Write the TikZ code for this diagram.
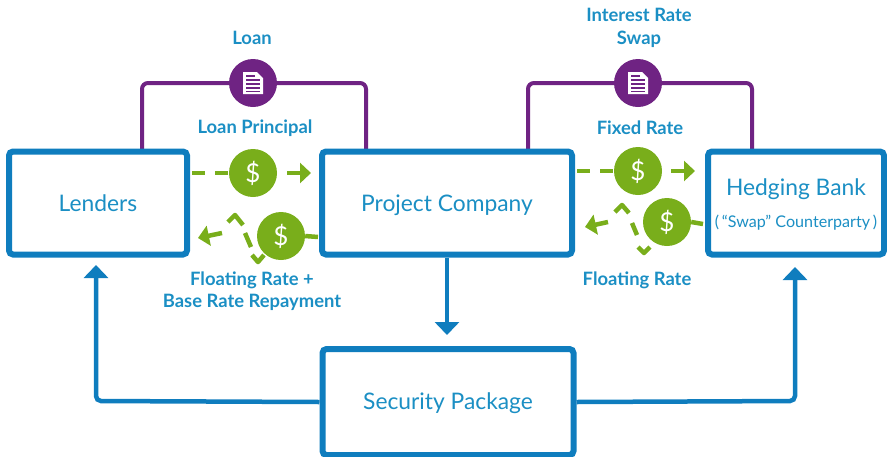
\documentclass[tikz,border=0pt]{standalone}
\usepackage{fontspec}
\setmainfont{Lato}
\usetikzlibrary{arrows.meta,calc}
\definecolor{bl}{HTML}{0F7DBE}
\definecolor{tb}{HTML}{1B8FC4}
\definecolor{pu}{HTML}{6F2383}
\definecolor{gr}{HTML}{79AE1B}
\newcommand{\midtext}[2]{\raisebox{#1}[8pt][8pt]{#2}}
\tikzset{
 boxn/.style={draw=bl,line width=6pt,rounded corners=4pt,fill=white,text=tb,inner sep=0pt,font=\fontsize{22.8}{25}\selectfont,align=center},
 lab/.style={text=tb,font=\fontsize{18.4}{22.5}\selectfont\bfseries,align=center,inner sep=0pt},
 plink/.style={draw=pu,line width=4pt,rounded corners=6pt},
 blink/.style={draw=bl,line width=4.5pt,rounded corners=5pt,-{Triangle[length=13pt,width=24pt]}},
 glink/.style={draw=gr,line width=4.5pt},
 garrow/.style={draw=gr,line width=4.5pt,-{Triangle[length=11pt,width=20pt]}},
 gdash/.style={draw=gr,line width=4.5pt,dash pattern=on 13pt off 10pt},
 dollar/.style={circle,fill=gr,minimum size=48pt,inner sep=0pt,text=white,font=\fontsize{26}{26}\selectfont},
 docn/.style={circle,fill=pu,minimum size=48pt,inner sep=0pt},
}
\newcommand{\docicon}[1]{
 \fill[white] ($(#1)+(-10,-11)$) -- ($(#1)+(4,-11)$) -- ($(#1)+(10,-5)$) -- ($(#1)+(10,11)$) -- ($(#1)+(-10,11)$) -- cycle;
 \foreach \yy in {-3,1,5,8.5}{\draw[pu,line width=1.5pt] ($(#1)+(-7,\yy)$) -- ($(#1)+(7,\yy)$);}
 \draw[pu,line width=1.2pt] ($(#1)+(-7,-7)$) -- ($(#1)+(2,-7)$);
}
\begin{document}
\begin{tikzpicture}[x=1pt,y=-1pt]
\useasboundingbox (0,0) rectangle (887,456);
\coordinate (lp1) at (142,150); \coordinate (lp2) at (142,83); \coordinate (lp3) at (366,83); \coordinate (lp4) at (366,150);
\coordinate (rp1) at (528,150); \coordinate (rp2) at (528,83); \coordinate (rp3) at (752,83); \coordinate (rp4) at (752,150);
\draw[plink] (lp1) -- (lp2) -- (lp3) -- (lp4);
\draw[plink] (rp1) -- (rp2) -- (rp3) -- (rp4);
\node[boxn,minimum width=178pt,minimum height=103pt] (lenders) at (98,203) {\midtext{-8pt}{Lenders}};
\node[boxn,minimum width=250pt,minimum height=103pt] (project) at (447,203) {\midtext{-8pt}{Project Company}};
\node[boxn,minimum width=176pt,minimum height=103pt] (hedge) at (796,203) {\rule{0pt}{20pt}Hedging Bank\\[7pt]{\fontsize{16.1}{20}\selectfont (\,“Swap” Counterparty\,)}};
\node[boxn,minimum width=251pt,minimum height=106pt] (security) at (448,402) {\midtext{-7pt}{Security Package}};
\node[docn] (doc1) at (253,83) {}; \docicon{doc1}
\node[docn] (doc2) at (638,83) {}; \docicon{doc2}
\node[lab] (tloan) at (252,38) {Loan};
\node[lab] (tswap) at (639,28) {Interest Rate\\Swap};
\node[lab] (tprin) at (255,128) {Loan Principal};
\node[lab] (tfix) at (640,128) {Fixed Rate};
\node[lab] (tflo) at (252,291) {Floating Rate +\\Base Rate Repayment};
\node[lab] (tflo2) at (637,280) {Floating Rate};
\node[dollar] (d1) at (253,173) {\$};
\node[dollar] (d2) at (281,236) {\$};
\node[dollar] (d3) at (638,171) {\$};
\node[dollar] (d4) at (667,222) {\$};
\coordinate (a1) at (311,173); \coordinate (a3) at (695,171);
\coordinate (a2) at (198,238); \coordinate (a4) at (585,227);
\draw[gdash] (lenders.east |- d1) ++(2,0) -- (d1.west);
\draw[garrow] (287,173) -- (a1);
\draw[gdash] (project.east |- d3) ++(2,0) -- (d3.west);
\draw[garrow] (671,171) -- (a3);
\draw[glink] (d2.east) -- (318,237);
\draw[glink] (d4.east) -- (703,224);
\draw[glink,line join=round] (228,222) -- (235,215) -- (243,225) (245,233) -- (251,247) (252,255) -- (258,262) -- (264,255);
\draw[garrow] (222,233) -- (a2);
\draw[glink,line join=round] (615,212) -- (622,205) -- (629,213) (632,223) -- (637,235) (638,247) -- (644,253) -- (650,247);
\draw[garrow] (608,222) -- (a4);
\coordinate (sl) at (96,265); \coordinate (sr) at (795,267);
\draw[blink] (project.south) -- (447,335);
\draw[blink] (security.west) -- (96,401) -- (sl);
\draw[blink] (security.east) -- (795,401) -- (sr);
\end{tikzpicture}
\end{document}
